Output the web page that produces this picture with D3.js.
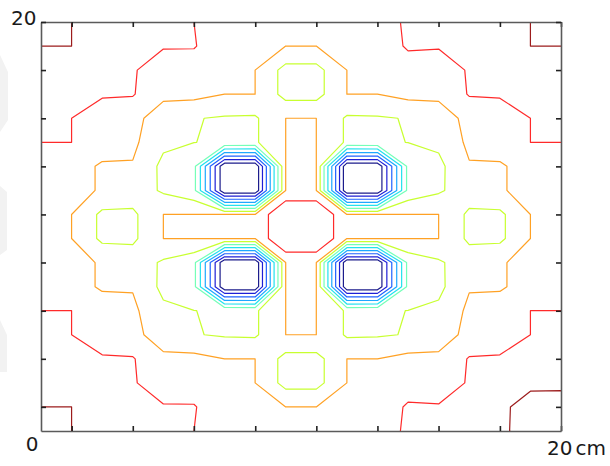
<!DOCTYPE html>
<html>
  <head>
    <meta charset="utf-8">
    <title>Contour plot</title>
    <script src="https://d3js.org/d3.v7.min.js"></script>
  </head>
  <style>
    body { margin: 0; background: #fff; }
    .frame path.domain { stroke: #5a5a5a; stroke-width: 1.6; }
    .frame .tick > line { stroke: #222; stroke-width: 1.6; }
    .label { font-family: "DejaVu Sans", sans-serif; font-size: 20px; fill: #1a1a1a; }
  </style>
  <body>
    <svg width="610" height="466"></svg>
    <script>
      // contour levels, low to high, and the colour of each line
      var levels = [1, 2, 3, 4, 5, 6, 7, 8, 9, 10.5];
      var levelColors = ["#1c1c8c", "#1f1fd6", "#2062ff", "#1ea8ff", "#22e2ee",
                         "#74ffb8", "#c8ff30", "#ffa124", "#ff2a2a", "#9c1c1c"];

      // tick marks (cm), one at every second grid node
      var xTicks = [1.18, 3.53, 5.88, 8.24, 10.59, 12.94, 15.29, 17.65, 20];
      var yTicks = [1.18, 3.53, 5.88, 8.24, 10.59, 12.94, 15.29, 17.65, 20];

      // sampled field on an 18 x 18 grid, top row first (0 .. 20 cm both ways)
      var field = [
        [11, 10.5, 9.7, 9.5, 9.3, 9.0, 8.7, 8.5, 8.4, 8.4, 8.5, 8.7, 9.1, 9.3, 9.5, 9.7, 10.5, 11],
        [10.5, 10.5, 9.6, 9.3, 9.05, 9.05, 8.5, 8.3, 8.0, 8.0, 8.3, 8.5, 9.1, 9.05, 9.3, 9.6, 10.5, 10.5],
        [9.7, 9.6, 9.4, 9.06, 8.65, 8.6, 8.4, 8.0, 6.65, 6.65, 8.0, 8.4, 8.6, 8.65, 9.06, 9.4, 9.6, 9.7],
        [9.6, 9.4, 9.1, 9.06, 8.3, 8.3, 8.0, 8.0, 6.65, 6.65, 8.0, 8.0, 8.3, 8.3, 9.06, 9.1, 9.4, 9.6],
        [9.3, 9.0, 8.5, 8.4, 7.3, 7.05, 6.9, 6.87, 8.0, 8.0, 6.87, 6.9, 7.05, 7.3, 8.4, 8.5, 9.0, 9.3],
        [9.0, 9.0, 8.4, 8.2, 7.2, 7.01, 6.9, 6.87, 8.0, 8.0, 6.87, 6.9, 7.01, 7.2, 8.2, 8.4, 9.0, 9.0],
        [8.6, 8.33, 7.9, 7.93, 6.75, 6.3, 0.1, 0.1, 8.0, 8.0, 0.1, 0.1, 6.3, 6.75, 7.93, 7.9, 8.33, 8.6],
        [8.5, 8.33, 7.9, 7.6, 6.85, 6.3, 0.1, 0.1, 8.0, 8.0, 0.1, 0.1, 6.3, 6.85, 7.6, 7.9, 8.33, 8.5],
        [8.45, 8.0, 6.78, 6.8, 8.0, 8.0, 8.0, 8.0, 10.3, 10.3, 8.0, 8.0, 8.0, 8.0, 6.8, 6.78, 8.0, 8.45],
        [8.45, 8.0, 6.78, 6.8, 8.0, 8.0, 8.0, 8.0, 10.3, 10.3, 8.0, 8.0, 8.0, 8.0, 6.8, 6.78, 8.0, 8.45],
        [8.5, 8.33, 7.9, 7.6, 6.85, 6.3, 0.1, 0.1, 8.0, 8.0, 0.1, 0.1, 6.3, 6.85, 7.6, 7.9, 8.33, 8.5],
        [8.6, 8.33, 7.9, 7.93, 6.75, 6.3, 0.1, 0.1, 8.0, 8.0, 0.1, 0.1, 6.3, 6.75, 7.93, 7.9, 8.33, 8.6],
        [9.0, 9.0, 8.4, 8.2, 7.2, 7.01, 6.9, 6.87, 8.0, 8.0, 6.87, 6.9, 7.01, 7.2, 8.2, 8.4, 9.0, 9.0],
        [9.3, 9.0, 8.5, 8.4, 7.3, 7.05, 6.9, 6.87, 8.0, 8.0, 6.87, 6.9, 7.05, 7.3, 8.4, 8.5, 9.0, 9.3],
        [9.6, 9.4, 9.1, 9.06, 8.3, 8.3, 8.0, 8.0, 6.65, 6.65, 8.0, 8.0, 8.3, 8.3, 9.06, 9.1, 9.4, 9.6],
        [9.7, 9.6, 9.4, 9.06, 8.65, 8.6, 8.4, 8.0, 6.65, 6.65, 8.0, 8.4, 8.6, 8.65, 9.06, 9.4, 9.6, 9.7],
        [10.5, 10.5, 9.6, 9.3, 9.05, 9.05, 8.5, 8.3, 8.0, 8.0, 8.3, 8.5, 9.1, 9.05, 9.3, 9.6, 12.2, 12.2],
        [11, 10.5, 9.7, 9.5, 9.3, 9.0, 8.7, 8.5, 8.4, 8.4, 8.5, 8.7, 9.1, 9.3, 9.5, 9.7, 12.2, 12.5]
      ];

      // d3 joins saddle cells on the high side; this level is traced from the
      // low side so the separate basins stay apart
      var lowSideLevels = [7];

      var nodeStep = 20 / (field.length - 1);
      var svg = d3.select("svg");

      var xScale = d3.scaleLinear().domain([0, 20]).range([41, 561]);
      var yScale = d3.scaleLinear().domain([0, 20]).range([431, 22]);

      // faint grey marks at the left edge
      var ghost = [
        [[0, 55], [8, 72], [8, 120], [0, 132]],
        [[0, 186], [7, 192], [7, 250], [0, 255]],
        [[0, 320], [7, 335], [7, 372], [0, 372]]
      ];
      svg.selectAll("polygon.ghost")
        .data(ghost)
        .enter()
        .append("polygon")
          .attr("class", "ghost")
          .attr("points", d => d.join(" "))
          .attr("fill", "#f2f2f2");

      svg.append("clipPath").attr("id", "plotClip")
        .append("rect")
          .attr("x", xScale(0))
          .attr("y", yScale(20))
          .attr("width", xScale(20) - xScale(0))
          .attr("height", yScale(0) - yScale(20));

      var contourGen = d3.contours().size([field[0].length, field.length]);
      var flat = field.flat();
      var flatLow = flat.map(v => -v);

      var toPlot = d3.geoTransform({
        point: function(x, y) {
          this.stream.point(xScale((x - 0.5) * nodeStep), yScale(20 - (y - 0.5) * nodeStep));
        }
      });
      var path = d3.geoPath(toPlot);

      var lines = svg.append("g").attr("clip-path", "url(#plotClip)");
      levels.forEach(function(level, k) {
        var shape = lowSideLevels.indexOf(level) >= 0
          ? contourGen.contour(flatLow, -level)
          : contourGen.contour(flat, level);
        lines.append("path")
          .attr("d", path(shape))
          .attr("fill", "none")
          .attr("stroke", levelColors[k])
          .attr("stroke-width", 1.2)
          .attr("stroke-linejoin", "round");
      });

      // frame with inward ticks on all four sides
      svg.append("g").attr("class", "frame")
        .attr("transform", "translate(0," + yScale(0) + ")")
        .call(d3.axisBottom(xScale).tickValues(xTicks).tickSizeInner(-5).tickSizeOuter(0).tickFormat(""));
      svg.append("g").attr("class", "frame")
        .attr("transform", "translate(0," + yScale(20) + ")")
        .call(d3.axisTop(xScale).tickValues(xTicks).tickSizeInner(-5).tickSizeOuter(0).tickFormat(""));
      svg.append("g").attr("class", "frame")
        .attr("transform", "translate(" + xScale(0) + ",0)")
        .call(d3.axisLeft(yScale).tickValues(yTicks).tickSizeInner(-5).tickSizeOuter(0).tickFormat(""));
      svg.append("g").attr("class", "frame")
        .attr("transform", "translate(" + xScale(20) + ",0)")
        .call(d3.axisRight(yScale).tickValues(yTicks).tickSizeInner(-5).tickSizeOuter(0).tickFormat(""));

      svg.append("text").attr("class", "label")
        .attr("x", xScale(0) - 4.5).attr("y", yScale(20) + 3)
        .attr("text-anchor", "end")
        .text("20");
      svg.append("text").attr("class", "label")
        .attr("x", xScale(0) - 2.5).attr("y", yScale(0) + 20)
        .attr("text-anchor", "end")
        .text("0");
      var unit = svg.append("text").attr("class", "label")
        .attr("x", xScale(20) - 14).attr("y", yScale(0) + 24);
      unit.append("tspan").text("20");
      unit.append("tspan").attr("dx", 3).text("cm");
    </script>
  </body>
</html>
